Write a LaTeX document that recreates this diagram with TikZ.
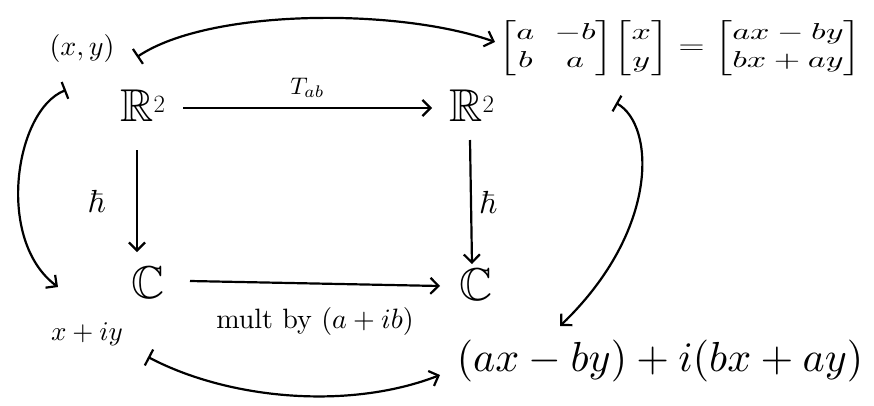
\documentclass[tikz,border=0pt]{standalone}
\usepackage{amsmath,amssymb}
\usepackage{graphicx}
\usetikzlibrary{arrows.meta}
\begin{document}
\begin{tikzpicture}[x=1pt,y=-1pt,
  conn/.style={line width=2.2pt,
    arrows={-Straight Barb[length=8pt,width=16pt,line width=2.2pt]}},
  mapconn/.style={line width=2.2pt,
    arrows={Bar[width=18pt,line width=2.2pt]-Straight Barb[length=8pt,width=16pt,line width=2.2pt]}},
  big/.style={font=\fontsize{46}{48}\selectfont, inner sep=0pt},
  txt/.style={inner sep=1pt}]
\useasboundingbox[fill=white] (0,0) rectangle (874,405);
% objects
\node[big] (R1) at (143,106) {$\mathbb{R}^2$};
\node[big] (R2) at (472,106) {$\mathbb{R}^2$};
\node[big] (C1) at (148,283) {$\mathbb{C}$};
\node[big] (C2) at (476,285) {$\mathbb{C}$};
\node[txt] (xy) at (82,48) {\scalebox{2.8}{$(x,y)$}};
\node[txt] (M) at (680,48)
  {\scalebox{3.4}[2.3]{\setlength\arraycolsep{3pt}$\begin{bmatrix} a & -b\\ b & a\end{bmatrix}\!\begin{bmatrix} x\\ y\end{bmatrix} = \begin{bmatrix} ax-by\\ bx+ay\end{bmatrix}$}};
\node[txt] (z) at (87,334) {\scalebox{2.7}{$x+iy$}};
\node[txt] (w) at (660,361) {\scalebox{4.2}{$(ax-by)+i(bx+ay)$}};
% main arrows
\draw[conn] (183,108) -- node[txt, above=8pt] {\scalebox{2.4}{$T_{ab}$}} (432,108);
\draw[conn] (137,150) -- node[txt, left=30pt] {\scalebox{3.2}{$\hbar$}} (137,252);
\draw[conn] (470,140) -- node[txt, right=6pt] {\scalebox{3.2}{$\hbar$}} (472,264);
\draw[conn] (190,281) -- node[txt, below=22pt] {\scalebox{2.8}{mult by $(a+ib)$}} (440,286);
% correspondence curves
\draw[mapconn] (137,57) .. controls (210,8) and (400,8) .. (495,42);
\draw[mapconn] (66,90) .. controls (15,110) and (-5,240) .. (58,287);
\draw[mapconn] (616,103) .. controls (655,125) and (660,230) .. (560,326);
\draw[mapconn] (148,357) .. controls (230,400) and (350,410) .. (440,375);
\end{tikzpicture}
\end{document}
